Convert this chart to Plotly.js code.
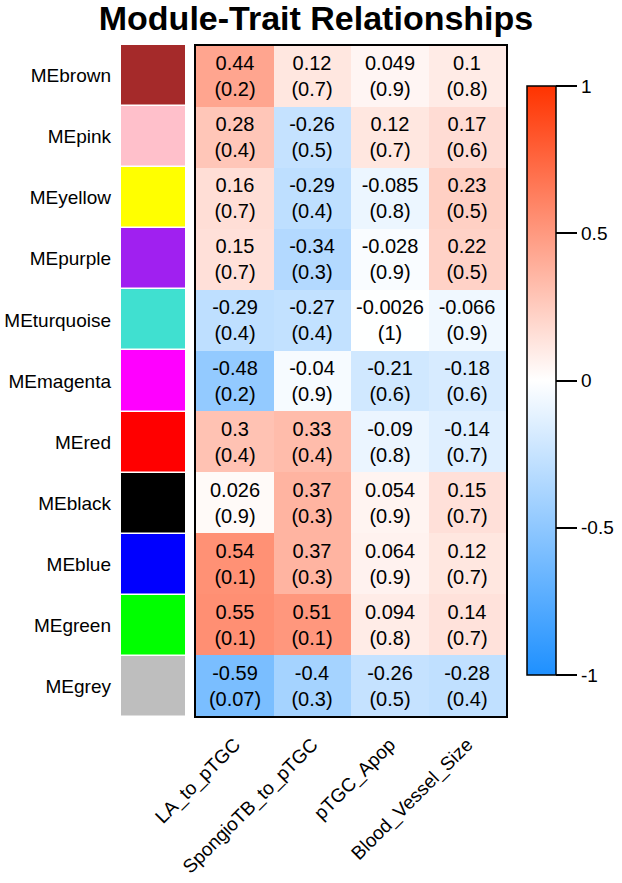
<!DOCTYPE html>
<html>
<head>
<meta charset="utf-8">
<script src="https://cdn.plot.ly/plotly-3.0.1.min.js"></script>
<style>
  html, body { margin: 0; padding: 0; background: #fff; }
  #chart { width: 622px; height: 883px; }
</style>
</head>
<body>
<div id="chart"></div>
<script>
var modules = ['MEbrown', 'MEpink', 'MEyellow', 'MEpurple', 'MEturquoise', 'MEmagenta',
               'MEred', 'MEblack', 'MEblue', 'MEgreen', 'MEgrey'];
var moduleColors = ['#A52A2A', '#FFC0CB', '#FFFF00', '#A020F0', '#40E0D0', '#FF00FF',
                    '#FF0000', '#000000', '#0000FF', '#00FF00', '#BEBEBE'];
var traits = ['LA_to_pTGC', 'SpongioTB_to_pTGC', 'pTGC_Apop', 'Blood_Vessel_Size'];

// correlations (rows = modules, cols = traits)
var cor = [
  [0.44, 0.12, 0.049, 0.1],
  [0.28, -0.26, 0.12, 0.17],
  [0.16, -0.29, -0.085, 0.23],
  [0.15, -0.34, -0.028, 0.22],
  [-0.29, -0.27, -0.0026, -0.066],
  [-0.48, -0.04, -0.21, -0.18],
  [0.3, 0.33, -0.09, -0.14],
  [0.026, 0.37, 0.054, 0.15],
  [0.54, 0.37, 0.064, 0.12],
  [0.55, 0.51, 0.094, 0.14],
  [-0.59, -0.4, -0.26, -0.28]
];
// p-values, as printed
var pval = [
  ['0.2', '0.7', '0.9', '0.8'],
  ['0.4', '0.5', '0.7', '0.6'],
  ['0.7', '0.4', '0.8', '0.5'],
  ['0.7', '0.3', '0.9', '0.5'],
  ['0.4', '0.4', '1', '0.9'],
  ['0.2', '0.9', '0.6', '0.6'],
  ['0.4', '0.4', '0.8', '0.7'],
  ['0.9', '0.3', '0.9', '0.7'],
  ['0.1', '0.3', '0.9', '0.7'],
  ['0.1', '0.1', '0.8', '0.7'],
  ['0.07', '0.3', '0.5', '0.4']
];
var cbTicks = [-1, -0.5, 0, 0.5, 1];
var cbLabels = ['-1', '-0.5', '0', '0.5', '1'];

var W = 622, H = 883;
var font = 'Arial, "Liberation Sans", sans-serif';

var cellText = cor.map(function (row, i) {
  return row.map(function (v, j) { return String(v) + '<br>(' + pval[i][j] + ')'; });
});

// stepped colorscale so each swatch gets its own module colour
var n = moduleColors.length;
var swatchScale = [];
moduleColors.forEach(function (c, i) {
  swatchScale.push([i / n, c]);
  swatchScale.push([(i + 1) / n, c]);
});

var heat = {
  type: 'heatmap',
  x: traits,
  y: modules,
  z: cor,
  text: cellText,
  texttemplate: '%{text}',
  textfont: { family: font, size: 20, color: '#000' },
  zmin: -1,
  zmax: 1,
  colorscale: [[0, 'rgb(30,144,255)'], [0.5, 'rgb(255,255,255)'], [1, 'rgb(255,51,0)']],
  xaxis: 'x',
  yaxis: 'y',
  hoverinfo: 'none',
  colorbar: {
    x: 527 / W, xanchor: 'left', xpad: 0,
    y: 1 - 380.5 / H, yanchor: 'middle', ypad: 0,
    len: 589 / H, lenmode: 'fraction',
    thickness: 29, thicknessmode: 'pixels',
    outlinewidth: 1.5, outlinecolor: '#000',
    ticks: 'outside', ticklen: 21, tickwidth: 2, tickcolor: '#000',
    tickvals: cbTicks, ticktext: cbLabels,
    tickfont: { family: font, size: 19, color: '#000' }
  }
};

var swatches = {
  type: 'heatmap',
  x: ['module'],
  y: modules,
  z: modules.map(function (m, i) { return [i]; }),
  zmin: -0.5,
  zmax: n - 0.5,
  colorscale: swatchScale,
  showscale: false,
  ygap: 1.5,
  xaxis: 'x2',
  yaxis: 'y2',
  hoverinfo: 'none'
};

var layout = {
  width: W,
  height: H,
  margin: { l: 0, r: 0, t: 0, b: 0 },
  paper_bgcolor: '#fff',
  plot_bgcolor: '#fff',
  showlegend: false,
  hovermode: false,
  font: { family: font, color: '#000' },
  title: {
    text: 'Module-Trait Relationships',
    font: { family: font, size: 34, weight: 'bold', color: '#000' },
    x: 316 / W, xanchor: 'center', xref: 'paper',
    y: 1 - 18 / H, yanchor: 'middle', yref: 'paper'
  },
  xaxis: {
    domain: [196 / W, 506 / W],
    anchor: 'y',
    type: 'category',
    tickangle: -45,
    ticks: '',
    ticklabelstandoff: 8,
    tickfont: { family: font, size: 19, color: '#000' },
    showline: true, mirror: true, linewidth: 2, linecolor: '#000',
    showgrid: false, zeroline: false
  },
  yaxis: {
    domain: [1 - 716 / H, 1 - 46 / H],
    anchor: 'x',
    type: 'category',
    autorange: 'reversed',
    showticklabels: false,
    ticks: '',
    showline: true, mirror: true, linewidth: 2, linecolor: '#000',
    showgrid: false, zeroline: false
  },
  xaxis2: {
    domain: [121 / W, 185 / W],
    anchor: 'y2',
    showticklabels: false,
    ticks: '',
    showgrid: false, zeroline: false, showline: false
  },
  yaxis2: {
    domain: [1 - 717 / H, 1 - 45 / H],
    anchor: 'x2',
    type: 'category',
    autorange: 'reversed',
    ticks: '',
    ticklabelstandoff: 9,
    tickfont: { family: font, size: 19, color: '#000' },
    showgrid: false, zeroline: false, showline: false
  }
};

Plotly.newPlot('chart', [heat, swatches], layout, { displayModeBar: false, staticPlot: true });
</script>
</body>
</html>
